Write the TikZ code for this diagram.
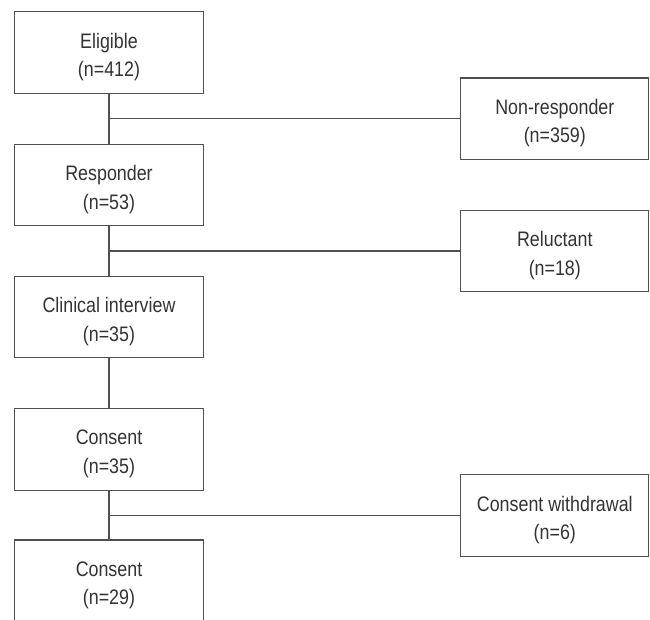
\documentclass[tikz,border=0pt]{standalone}
\usepackage{fontspec}
\setmainfont{Liberation Sans}[FakeStretch=0.85]
\definecolor{linec}{HTML}{505050}
\definecolor{textc}{HTML}{333333}
\begin{document}
\begin{tikzpicture}[x=1pt,y=-1pt,
  box/.style={draw=linec, line width=1.3pt, minimum width=189pt, minimum height=81.5pt, inner sep=0pt},
  txt/.style={align=center, text=textc, font=\fontsize{21}{28.5}\selectfont, yshift=-4.5pt},
  conn/.style={draw=linec, line width=1.3pt}]
\useasboundingbox (0,0) rectangle (650,619);
\clip (0,0) rectangle (650,619);
\node[box, label={[txt]center:{Eligible\\(n=412)}}] (elig) at (109,52.5) {};
\node[box, label={[txt]center:{Responder\\(n=53)}}] (resp) at (109,185) {};
\node[box, label={[txt]center:{Clinical interview\\(n=35)}}] (clin) at (109,317) {};
\node[box, label={[txt]center:{Consent\\(n=35)}}] (cons1) at (109,449.5) {};
\node[box, label={[txt]center:{Consent\\(n=29)}}] (cons2) at (109,580.7) {};
\node[box, minimum width=188pt, label={[txt]center:{Non-responder\\(n=359)}}] (nonr) at (554.8,118.8) {};
\node[box, minimum width=188pt, label={[txt]center:{Reluctant\\(n=18)}}] (relu) at (554.8,251) {};
\node[box, minimum width=188pt, label={[txt]center:{Consent withdrawal\\(n=6)}}] (with) at (554.8,515.5) {};
\coordinate (j1) at (elig.south |- nonr.west);
\coordinate (j2) at (resp.south |- relu.west);
\coordinate (j3) at (cons1.south |- with.west);
\draw[conn] (elig.south) -- (resp.north);
\draw[conn] (j1) -- (nonr.west);
\draw[conn] (resp.south) -- (clin.north);
\draw[conn] (j2) -- (relu.west);
\draw[conn] (clin.south) -- (cons1.north);
\draw[conn] (cons1.south) -- (cons2.north);
\draw[conn] (j3) -- (with.west);
\end{tikzpicture}
\end{document}
